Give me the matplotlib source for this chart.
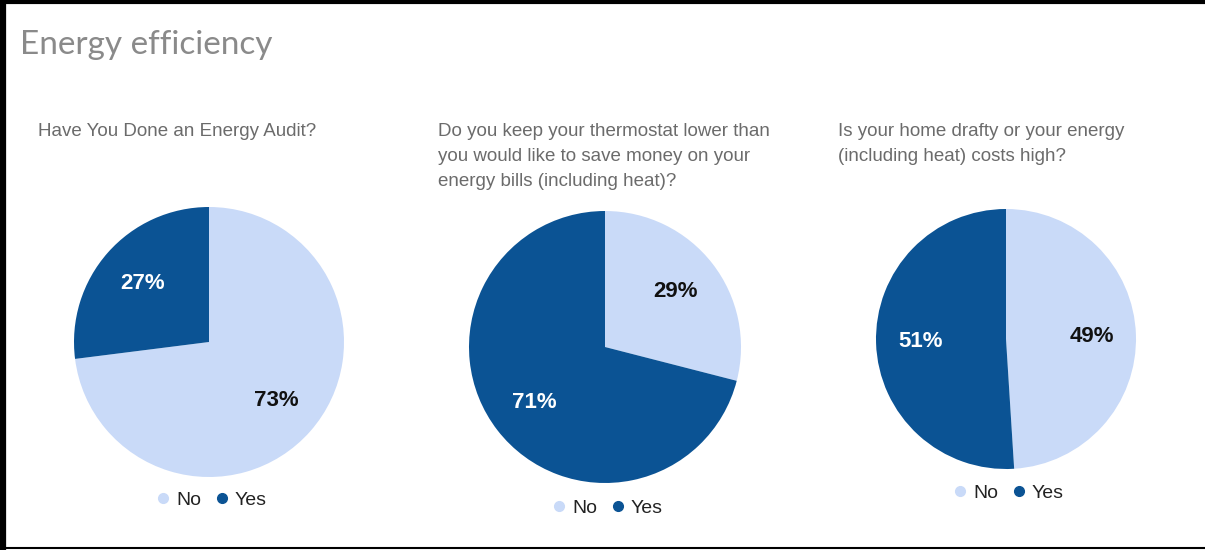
import matplotlib.pyplot as plt
from matplotlib.lines import Line2D

# Дані
labels = ['No', 'Yes']
audit = [73, 27]
thermostat = [29, 71]
drafty = [49, 51]
titles = [
    'Have You Done an Energy Audit?',
    'Do you keep your thermostat lower than\nyou would like to save money on your\nenergy bills (including heat)?',
    'Is your home drafty or your energy\n(including heat) costs high?',
]
colors = ['#c9daf8', '#0b5394']
text_colors = ['#111111', 'white']

W, H = 1205, 550
fig = plt.figure(figsize=(W / 100, H / 100), dpi=100)
plt.rcParams['font.family'] = ['Liberation Sans', 'DejaVu Sans']

# рамка
fig.add_artist(Line2D([3 / W, 3 / W], [0, 1], color='black', lw=4.5, transform=fig.transFigure))
fig.add_artist(Line2D([0, 1], [1 - 2 / H, 1 - 2 / H], color='black', lw=3, transform=fig.transFigure))
fig.add_artist(Line2D([0, 1], [2 / H, 2 / H], color='black', lw=1.5, transform=fig.transFigure))

fig.text(20 / W, 1 - 45 / H, 'Energy efficiency', fontsize=24, color='#8a8a8a',
         family='Lato', va='center', ha='left')

# (центр x, центр y, радіус, заголовок x, легенда y)
layout = [
    (209, 342, 135, 38, 500),
    (605, 347, 136, 438, 508),
    (1006, 339, 130, 838, 493),
]

for data, title, (cx, cy, r, tx, ly) in zip([audit, thermostat, drafty], titles, layout):
    ax = fig.add_axes([(cx - r) / W, 1 - (cy + r) / H, 2 * r / W, 2 * r / H])
    wedges, _, autotexts = ax.pie(data, colors=colors, startangle=90, counterclock=False,
                                  autopct='%d%%', pctdistance=0.66,
                                  wedgeprops=dict(linewidth=0))
    for t, c in zip(autotexts, text_colors):
        t.set_color(c)
        t.set_fontsize(16)
        t.set_fontweight('bold')
    ax.set_xlim(-1, 1)
    ax.set_ylim(-1, 1)
    ax.set_aspect('equal')
    fig.text(tx / W, 1 - 123 / H, title, fontsize=13.5, color='#6b6b6b',
             va='top', ha='left', linespacing=1.6)
    handles = [Line2D([], [], marker='o', ls='', color=c, markersize=7) for c in colors]
    fig.legend(handles, labels, loc='center', bbox_to_anchor=(cx / W, 1 - ly / H),
               ncol=2, frameon=False, fontsize=14, handletextpad=0.05,
               columnspacing=0.45, handlelength=1.2, labelcolor='#222222')

fig.savefig('out.png', dpi=100)
